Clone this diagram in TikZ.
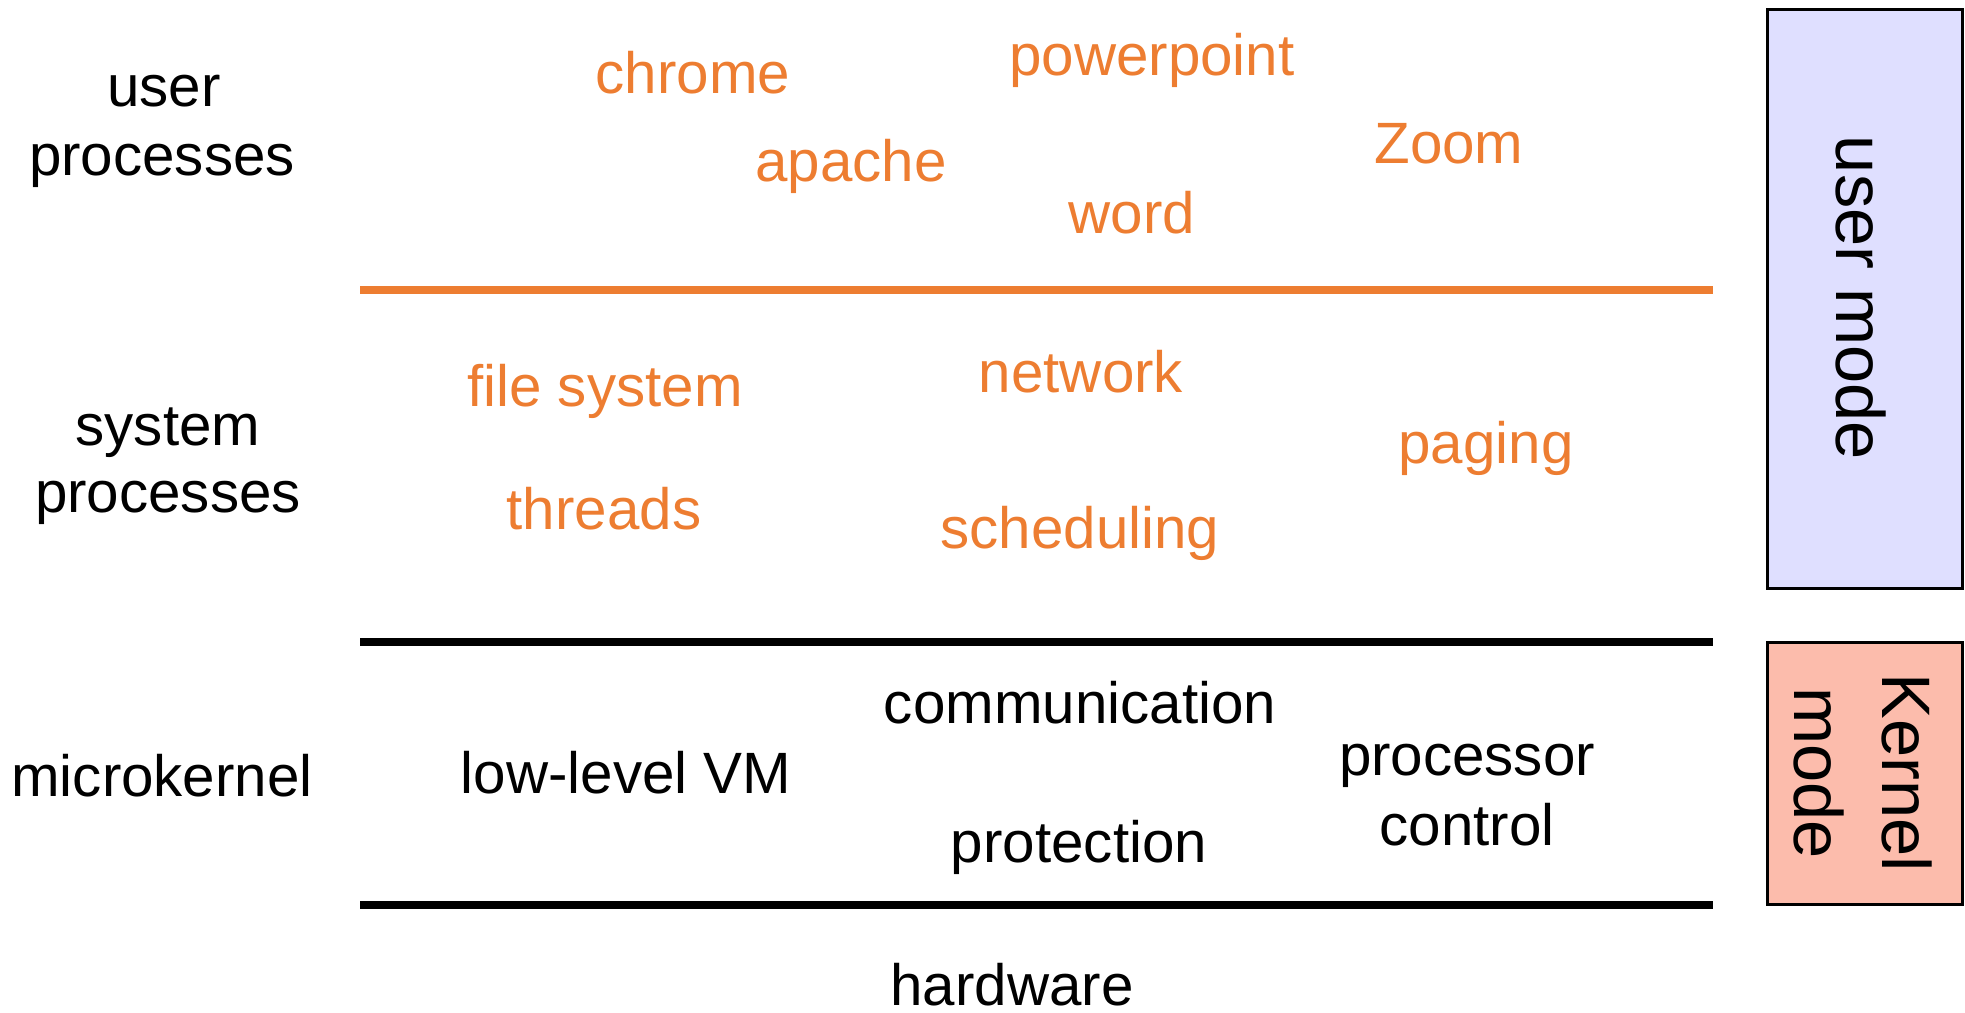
\documentclass[tikz,border=0pt]{standalone}
\usepackage{fontspec}
\setmainfont{Liberation Sans}
\definecolor{orng}{HTML}{ED7D31}
\definecolor{usrfill}{HTML}{DFDFFF}
\definecolor{krnfill}{HTML}{FCBCAC}
\tikzset{
  lbl/.style={anchor=base, inner sep=0pt, font=\fontsize{29.15pt}{34pt}\selectfont},
  olbl/.style={lbl, text=orng},
  modelbl/.style={anchor=base, inner sep=0pt, rotate=-90, font=\fontsize{34.3pt}{40pt}\selectfont},
  modebox/.style={draw=black, line width=1.5pt},
  layerline/.style={line width=4pt}
}
\begin{document}
\begin{tikzpicture}[x=0.5pt,y=-0.5pt]
\useasboundingbox (0,0) rectangle (1965,1012);
% left labels
\node[lbl] (up1) at (164,106) {user};
\node[lbl] (up2) at (162,175) {processes};
\node[lbl] (sp1) at (168,445) {system};
\node[lbl] (sp2) at (168,512) {processes};
\node[lbl] (mk) at (162,796) {microkernel};
% user processes
\node[olbl] (chrome) at (693,93) {chrome};
\node[olbl] (ppt) at (1152,75) {powerpoint};
\node[olbl] (apache) at (851,181) {apache};
\node[olbl] (zoom) at (1449,163) {Zoom};
\node[olbl] (word) at (1132,233) {word};
% system processes
\node[olbl] (fs) at (605,406) {file system};
\node[olbl] (net) at (1081,392) {network};
\node[olbl] (paging) at (1486,463) {paging};
\node[olbl] (threads) at (604,529) {threads};
\node[olbl] (sched) at (1080,548) {scheduling};
% microkernel
\node[lbl] (comm) at (1080,723) {communication};
\node[lbl] (llvm) at (626,793) {low-level VM};
\node[lbl] (proc1) at (1467,775) {processor};
\node[lbl] (proc2) at (1467,845) {control};
\node[lbl] (prot) at (1079,862) {protection};
\node[lbl] (hw) at (1012,1005) {hardware};
% layer lines
\coordinate (oL) at (360,289.5); \coordinate (oR) at (1713,289.5);
\coordinate (k1L) at (360,641.5); \coordinate (k1R) at (1713,641.5);
\coordinate (k2L) at (360,905); \coordinate (k2R) at (1713,905);
\draw[layerline, orng] (oL) -- (oR);
\draw[layerline] (k1L) -- (k1R);
\draw[layerline] (k2L) -- (k2R);
% mode boxes
\draw[modebox, fill=usrfill] (1767,9) rectangle (1962,588);
\draw[modebox, fill=krnfill] (1767,642) rectangle (1962,904);
\node[modelbl] (um) at (1836,298) {user mode};
\node[modelbl] (km1) at (1882,773) {Kernel};
\node[modelbl] (km2) at (1794,773) {mode};
\end{tikzpicture}
\end{document}
